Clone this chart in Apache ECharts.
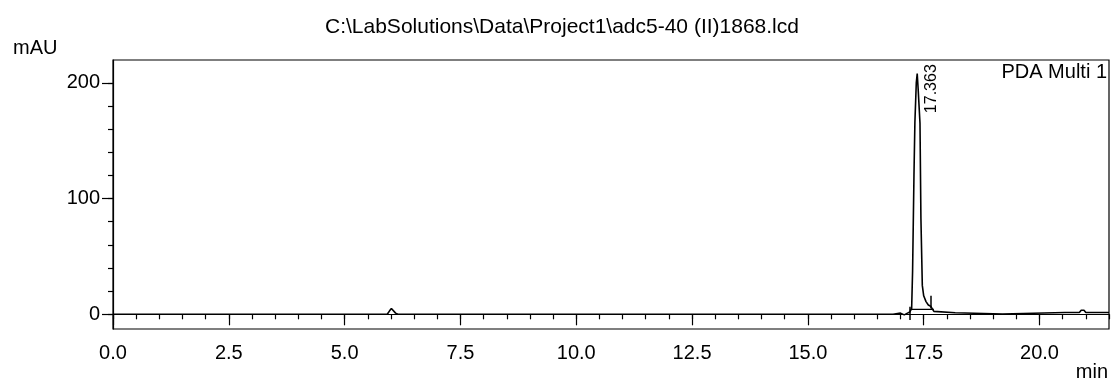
<!DOCTYPE html>
<html>
<head>
<meta charset="utf-8">
<script src="https://cdn.jsdelivr.net/npm/echarts@6/dist/echarts.min.js"></script>
<style>
  html, body {margin: 0; padding: 0; background: #fff;}
  #chart {width: 1111px; height: 383px;}
</style>
</head>
<body>
<div id="chart"></div>
<script>
// chromatogram: time (min) and signal (mAU)
var times = [0, 5.92, 5.97, 6.01, 6.05, 6.10, 6.15, 16.84, 16.86, 17.00, 17.03, 17.08, 17.10, 17.15, 17.20, 17.24,
    17.26, 17.29, 17.31, 17.34, 17.36, 17.38, 17.40, 17.42, 17.44, 17.47, 17.50, 17.55, 17.60, 17.65, 17.68, 17.72,
    17.76, 18.18, 18.22, 19.20, 19.23, 20.55, 20.59, 20.63, 20.86, 20.90, 20.96, 21.00, 21.50];
var mAU = [0, 0, 3, 5, 4, 1, 0, 0, 1, 1, -0.5, -0.5, 0.5, 1, 2, 5,
    37, 120, 166, 200, 208, 195, 180, 165, 83, 25, 16, 11, 8, 7, 6, 2.5,
    1.5, 1.4, 0.2, 0.2, 1.5, 1.5, 3, 1.5, 1.5, 3.5, 3.5, 1.5, 1.5];

var xLabels = [0, 2.5, 5, 7.5, 10, 12.5, 15, 17.5, 20];
var xMinor = [];
for (var i = 0; i <= 43; i++) xMinor.push(i * 0.5);
var yLabels = [0, 100, 200];
var yMinor = [0, 20, 40, 60, 80, 100, 120, 140, 160, 180, 200];

// integration baseline and peak start/end marks
var baseT = [17.20, 17.72];
var baseV = [4.3, 4.3];
var marks = [[17.20, -5, 6.5], [17.66, 5, 16]];
var peakTime = '17.363';

var chart = echarts.init(document.getElementById('chart'));
var font = 'Liberation Sans, Arial, sans-serif';

var option = {
    animation: false,
    title: {text: 'C:\\LabSolutions\\Data\\Project1\\adc5-40 (II)1868.lcd', left: 320, top: 12,
        textStyle: {fontFamily: font, fontSize: 21, fontWeight: 'normal', color: '#000'}},
    grid: {left: 113, right: 2, top: 60, bottom: 54, show: true, borderColor: '#000', borderWidth: 1.2},
    xAxis: [
        {type: 'value', min: 0, max: 21.5, splitLine: {show: false},
         axisLine: {lineStyle: {color: '#000', width: 1.2}},
         axisTick: {customValues: xLabels, length: 11, lineStyle: {color: '#000', width: 1.2}},
         axisLabel: {customValues: xLabels, margin: 14, color: '#000', fontFamily: font, fontSize: 20,
                     formatter: function (v) {return v.toFixed(1);}}},
        {type: 'value', min: 0, max: 21.5, position: 'bottom', splitLine: {show: false},
         axisLine: {show: false}, axisLabel: {show: false},
         axisTick: {customValues: xMinor, length: 5, lineStyle: {color: '#000', width: 1.2}}}
    ],
    yAxis: [
        {type: 'value', min: -12.7, max: 219.8, splitLine: {show: false},
         axisLine: {lineStyle: {color: '#000', width: 1.2}},
         axisTick: {customValues: yLabels, length: 11, lineStyle: {color: '#000', width: 1.2}},
         axisLabel: {customValues: yLabels, margin: 13, color: '#000', fontFamily: font, fontSize: 20}},
        {type: 'value', min: -12.7, max: 219.8, position: 'left', splitLine: {show: false},
         axisLine: {show: false}, axisLabel: {show: false},
         axisTick: {customValues: yMinor, length: 5, lineStyle: {color: '#000', width: 1.2}}}
    ],
    graphic: [
        {type: 'text', left: 13, top: 38, style: {text: 'mAU', font: '20px ' + font, fill: '#000'}},
        {type: 'text', right: 3, top: 362, style: {text: 'min', font: '20px ' + font, fill: '#000'}},
        {type: 'text', right: 4, top: 62, style: {text: 'PDA Multi 1', font: '20px ' + font, fill: '#000'}}
    ],
    series: [
        {type: 'line', data: times.map(function (t, k) {return [t, mAU[k]];}),
         showSymbol: false, lineStyle: {color: '#000', width: 1.6}, z: 3,
         markLine: {symbol: 'none', silent: true, label: {show: false}, lineStyle: {color: '#000', width: 1.5, type: 'solid'},
             data: marks.map(function (m) {return [{coord: [m[0], m[1]]}, {coord: [m[0], m[2]]}];})},
         markPoint: {symbolSize: 0, silent: true,
             data: [{coord: [17.66, 195], label: {show: true, position: 'inside', rotate: 90, formatter: peakTime,
                 color: '#000', fontFamily: font, fontSize: 16}}]}},
        {type: 'line', data: baseT.map(function (t, k) {return [t, baseV[k]];}),
         showSymbol: false, lineStyle: {color: '#000', width: 1.2}}
    ]
};

chart.setOption(option);
</script>
</body>
</html>
